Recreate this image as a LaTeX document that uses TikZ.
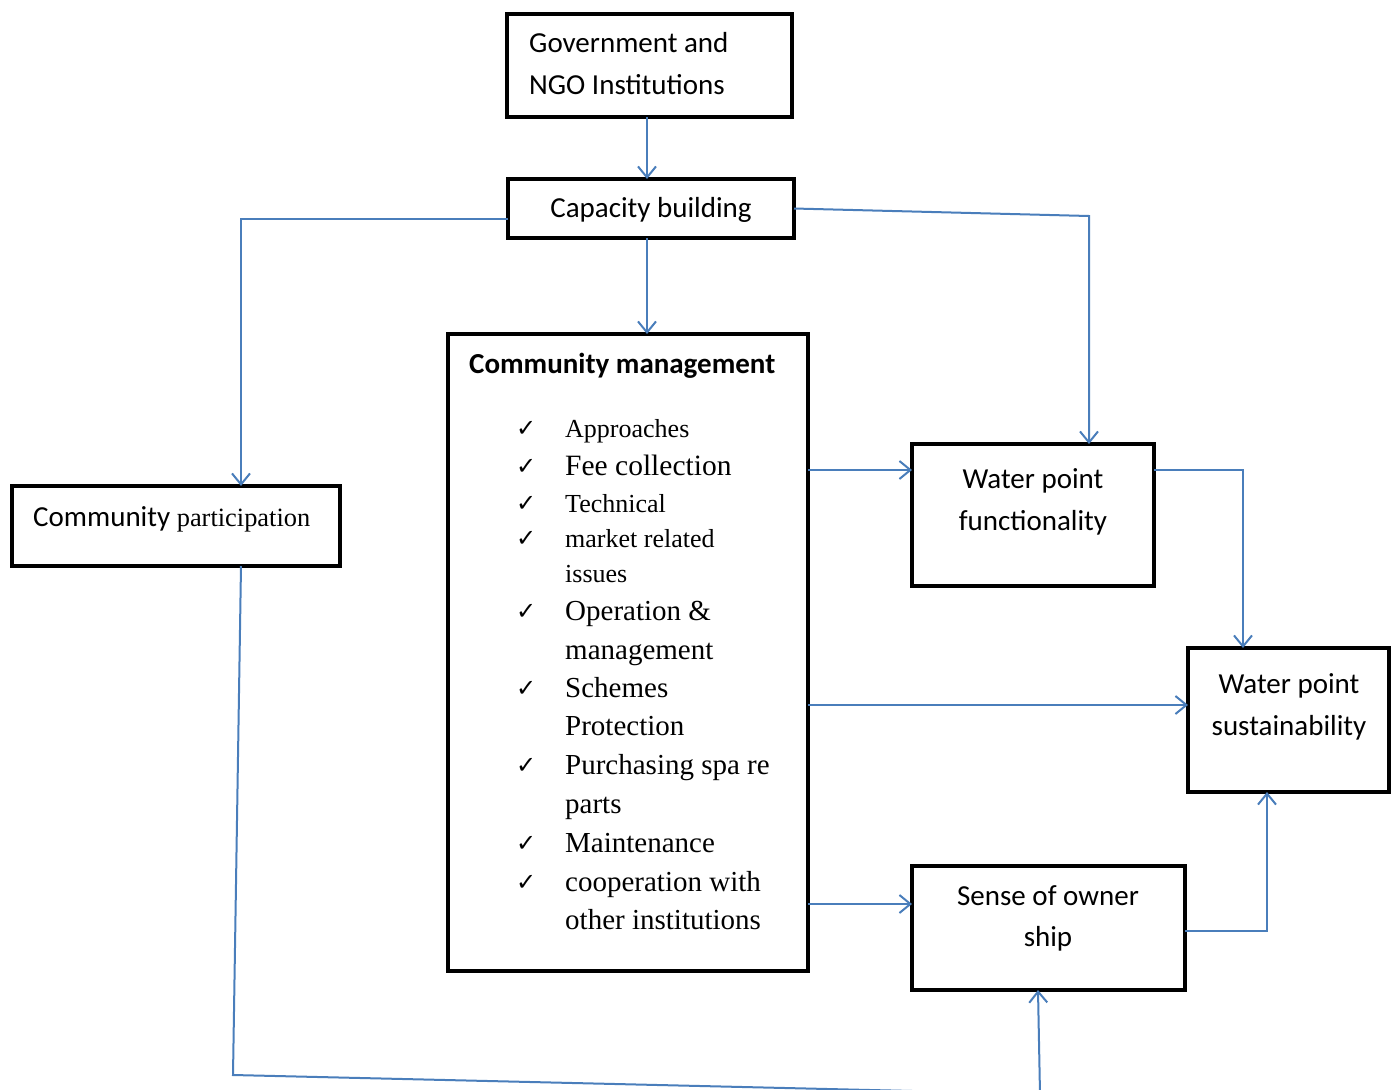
\documentclass[tikz,border=0pt]{standalone}
\usepackage{fontspec}
\setmainfont{Liberation Serif}
\newfontfamily\calfont{Carlito}
\newfontfamily\dvfont{DejaVu Sans}
\usetikzlibrary{arrows.meta}
\definecolor{conn}{HTML}{4A7EBB}
\begin{document}
\begin{tikzpicture}[x=1pt,y=-1pt,
  box/.style={draw=black,line width=4pt,inner sep=0pt,outer sep=0pt,anchor=north west},
  ctext/.style={inner sep=0pt,font=\calfont\fontsize{29}{35}\selectfont},
  ltext/.style={inner sep=0pt,anchor=base west,font=\fontsize{29}{35}\selectfont},
  stext/.style={inner sep=0pt,anchor=base west,font=\fontsize{26}{31}\selectfont},
  chk/.style={inner sep=0pt,anchor=base west,font=\dvfont\fontsize{24}{26}\selectfont},
  conline/.style={draw=conn,line width=2pt},
  arr/.style={conline,-{Straight Barb[length=11pt,width=18pt,line width=2pt]}}]
\useasboundingbox (0,0) rectangle (1398,1090);

% boxes
\node[box,minimum width=285pt,minimum height=103pt] (gov) at (507,14) {};
\node[box,minimum width=286pt,minimum height=59pt] (cap) at (508,179) {};
\node[box,minimum width=360pt,minimum height=637pt] (cm) at (448,334) {};
\node[box,minimum width=328pt,minimum height=80pt] (cp) at (12,486) {};
\node[box,minimum width=242pt,minimum height=142pt] (wpf) at (912,444) {};
\node[box,minimum width=201pt,minimum height=144pt] (wps) at (1188,648) {};
\node[box,minimum width=273pt,minimum height=124pt] (sso) at (912,866) {};

% box texts
\node[ctext,anchor=base west] (govt1) at (529,52) {Government and};
\node[ctext,anchor=base west] (govt2) at (529,94) {NGO Institutions};
\node[ctext,anchor=base] (capt) at (651,217) {Capacity building};
\node[ctext,anchor=base west,font=\calfont\bfseries\fontsize{29}{35}\selectfont] (cmt) at (469,373) {Community management};
\node[ctext,anchor=base west] (cpt) at (33,526) {Community {\rmfamily\fontsize{26.4}{31}\selectfont participation}};
\node[ctext,anchor=base] (wpft1) at (1033,488) {Water point};
\node[ctext,anchor=base] (wpft2) at (1033,530) {functionality};
\node[ctext,anchor=base] (wpst1) at (1289,693) {Water point};
\node[ctext,anchor=base] (wpst2) at (1289,735) {sustainability};
\node[ctext,anchor=base] (ssot1) at (1048,905) {Sense of owner};
\node[ctext,anchor=base] (ssot2) at (1048,946) {ship};

% list
\foreach \n/\y in {1/436,2/474,3/511,4/546,5/619,6/696,7/773,8/851,9/890}
  \node[chk] (ck\n) at (516,\y) {✓};
\node[stext] (l1) at (565,437) {Approaches};
\node[ltext,font=\fontsize{29.5}{35}\selectfont] (l2) at (565,475) {Fee collection};
\node[stext] (l3) at (565,512) {Technical};
\node[stext] (l4) at (565,547) {market related};
\node[stext] (l5) at (565,582) {issues};
\node[ltext] (l6) at (565,620) {Operation \&};
\node[ltext] (l7) at (565,659) {management};
\node[ltext] (l8) at (565,697) {Schemes};
\node[ltext] (l9) at (565,735) {Protection};
\node[ltext] (l10) at (565,774) {Purchasing spa re};
\node[ltext] (l11) at (565,813) {parts};
\node[ltext] (l12) at (565,852) {Maintenance};
\node[ltext] (l13) at (565,891) {cooperation with};
\node[ltext] (l14) at (565,929) {other institutions};

% connectors
\draw[arr] (647,0 |- gov.south) -- (647,0 |- cap.north);
\draw[arr] (cap.west |- 0,219) -- (241,219) -- (241,0 |- cp.north);
\draw[arr] (647,0 |- cap.south) -- (647,0 |- cm.north);
\draw[arr] (cap.east) -- (1089,216) -- (1089,0 |- wpf.north);
\draw[arr] (cm.east |- 0,470) -- (wpf.west |- 0,470);
\draw[arr] (wpf.east |- 0,470) -- (1243,470) -- (1243,0 |- wps.north);
\draw[arr] (cm.east |- 0,705) -- (wps.west |- 0,705);
\draw[arr] (cm.east |- 0,904) -- (sso.west |- 0,904);
\draw[arr] (sso.east |- 0,931) -- (1267,931) -- (1267,0 |- wps.south);
\draw[arr] (241,0 |- cp.south) -- (233,1075) -- (1040,1094) -- (1038,0 |- sso.south);
\end{tikzpicture}
\end{document}
